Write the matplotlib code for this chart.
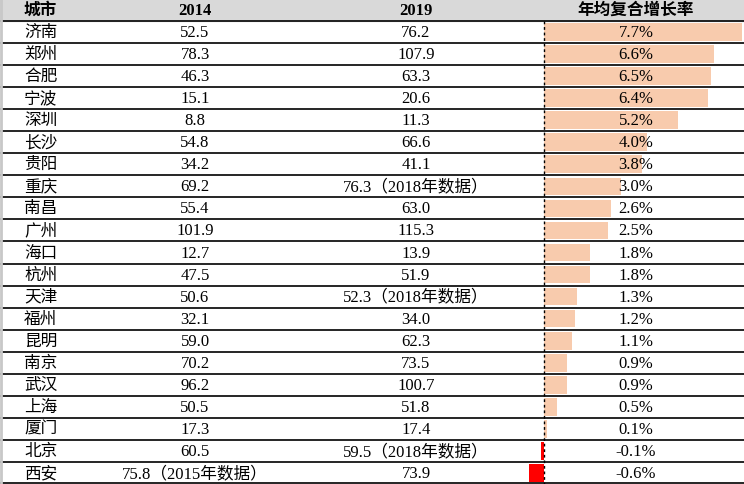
import matplotlib.pyplot as plt

plt.rcParams["font.family"] = ["Liberation Serif", "Noto Sans CJK SC"]

cities = ["济南", "郑州", "合肥", "宁波", "深圳", "长沙", "贵阳", "重庆", "南昌", "广州", "海口",
          "杭州", "天津", "福州", "昆明", "南京", "武汉", "上海", "厦门", "北京", "西安"]
v2014 = [52.5, 78.3, 46.3, 15.1, 8.8, 54.8, 34.2, 69.2, 55.4, 101.9, 12.7,
         47.5, 50.6, 32.1, 59.0, 70.2, 96.2, 50.5, 17.3, 60.5, 75.8]
v2019 = [76.2, 107.9, 63.3, 20.6, 11.3, 66.6, 41.1, 76.3, 63.0, 115.3, 13.9,
         51.9, 52.3, 34.0, 62.3, 73.5, 100.7, 51.8, 17.4, 59.5, 73.9]
note2014 = {"西安": "（2015年数据）"}
note2019 = {"重庆": "（2018年数据）", "天津": "（2018年数据）", "北京": "（2018年数据）"}
growth = [7.7, 6.6, 6.5, 6.4, 5.2, 4.0, 3.8, 3.0, 2.6, 2.5, 1.8,
          1.8, 1.3, 1.2, 1.1, 0.9, 0.9, 0.5, 0.1, -0.1, -0.6]
headers = ["城市", "2014", "2019", "年均复合增长率"]

W, H = 744, 485
head_h = 22
row_h = (H - head_h) / len(cities)
axis_x = 544
scale = 25.7  # pixels per percent
col_x = [24, 195, 416, 636]
fs = 12

fig = plt.figure(figsize=(W / 100, H / 100), dpi=100)
ax = fig.add_axes([0, 0, 1, 1])
ax.set_xlim(0, W)
ax.set_ylim(H, 0)
ax.axis("off")

# header
ax.axhspan(0, head_h, color="#d9d9d9", zorder=0)
ax.text(col_x[0], head_h / 2, headers[0], ha="left", va="center", fontsize=fs, fontweight="bold")
for x, h in zip(col_x[1:], headers[1:]):
    ax.text(x, head_h / 2, h, ha="center", va="center", fontsize=fs, fontweight="bold")

ys = [head_h + row_h * (i + 0.5) for i in range(len(cities))]

colors = ["#f8cbad" if g >= 0 else "#ff0000" for g in growth]
ax.barh(ys, [g * scale for g in growth], left=axis_x, height=row_h * 0.8, color=colors, zorder=1)

for y, c, a, b, g in zip(ys, cities, v2014, v2019, growth):
    ax.text(col_x[0], y, c, ha="left", va="center", fontsize=fs)
    ax.text(col_x[1], y, f"{a:.1f}" + note2014.get(c, ""), ha="center", va="center", fontsize=fs)
    ax.text(col_x[2], y, f"{b:.1f}" + note2019.get(c, ""), ha="center", va="center", fontsize=fs)
    ax.text(col_x[3], y, f"{g:.1f}%", ha="center", va="center", fontsize=fs, zorder=3)

for i in range(len(cities) + 1):
    ax.axhline(head_h + row_h * i - (1 if i == len(cities) else 0), color="black", lw=1.2, zorder=2)

ax.plot([axis_x, axis_x], [head_h, H], color="black", lw=1, ls=(0, (2, 2)), zorder=2)
ax.axvline(1, color="#c8c8c8", lw=2, zorder=2)

fig.savefig("out.png", dpi=100)
